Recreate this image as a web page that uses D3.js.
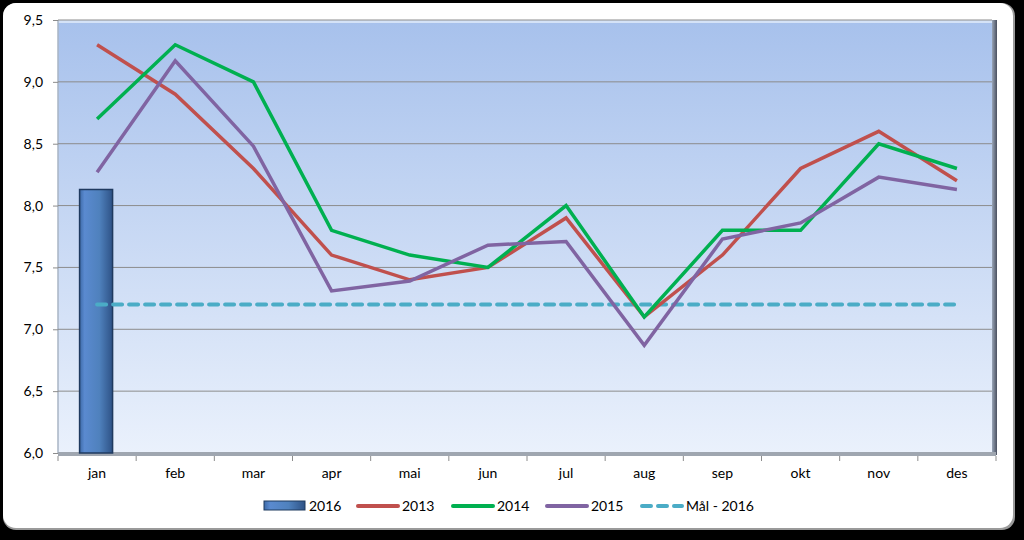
<!DOCTYPE html>
<html><head><meta charset="utf-8">
<script src="https://cdn.jsdelivr.net/npm/d3@7"></script>
<style>
html,body{margin:0;padding:0;background:#000;}
svg{display:block;}
text{font-family:Lato,"Open Sans",sans-serif;fill:#000;}
</style></head>
<body>
<script>
const months = ["jan","feb","mar","apr","mai","jun","jul","aug","sep","okt","nov","des"];
const bar2016 = [8.13];
const s2013 = [9.3, 8.9, 8.3, 7.6, 7.4, 7.5, 7.9, 7.1, 7.6, 8.3, 8.6, 8.2];
const s2014 = [8.7, 9.3, 9.0, 7.8, 7.6, 7.5, 8.0, 7.1, 7.8, 7.8, 8.5, 8.3];
const s2015 = [8.27, 9.17, 8.48, 7.31, 7.39, 7.68, 7.71, 6.87, 7.73, 7.86, 8.23, 8.13];
const goal2016 = [7.2, 7.2, 7.2, 7.2, 7.2, 7.2, 7.2, 7.2, 7.2, 7.2, 7.2, 7.2];
const yTicks = [6.0, 6.5, 7.0, 7.5, 8.0, 8.5, 9.0, 9.5];
const legendLabels = ["2016", "2013", "2014", "2015", "Mål - 2016"];

const W = 1024, H = 540;
const svg = d3.select("body").append("svg").attr("width", W).attr("height", H);
const defs = svg.append("defs");

svg.append("rect").attr("width", W).attr("height", H).attr("fill", "#000");
svg.append("rect").attr("x", 3).attr("y", 3).attr("width", 1012).attr("height", 527)
  .attr("rx", 13).attr("fill", "#9a9a9a");
svg.append("rect").attr("x", 3).attr("y", 3).attr("width", 1010).attr("height", 525)
  .attr("rx", 13).attr("fill", "#fff");

const x0 = 58, x1 = 996, yTop = 20, yBot = 453;
const x = d3.scaleBand().domain(months).range([x0, x1]).padding(0);
const y = d3.scaleLinear().domain([6, 9.5]).range([yBot, yTop]);

const g1 = defs.append("linearGradient").attr("id","plotGrad").attr("x1",0).attr("x2",0).attr("y1",0).attr("y2",1);
g1.append("stop").attr("offset","0%").attr("stop-color","#a7c1ec");
g1.append("stop").attr("offset","100%").attr("stop-color","#eaf1fc");
const rg = defs.append("linearGradient").attr("id","rightEdge").attr("x1",0).attr("x2",1).attr("y1",0).attr("y2",0);
rg.append("stop").attr("offset","0%").attr("stop-color","#9aa6b8");
rg.append("stop").attr("offset","100%").attr("stop-color","#4a5060");

svg.append("rect").attr("x", x0).attr("y", yTop).attr("width", x1 - x0).attr("height", yBot - yTop)
  .attr("fill", "url(#plotGrad)");
svg.append("rect").attr("x", x0).attr("y", yTop).attr("width", x1 - x0).attr("height", 3).attr("fill", "#d4e2f7");
svg.append("rect").attr("x", x1 - 4).attr("y", yTop).attr("width", 5).attr("height", yBot - yTop + 2).attr("fill", "url(#rightEdge)");
svg.append("line").attr("x1", x0).attr("x2", x0).attr("y1", yTop).attr("y2", yBot).attr("stroke", "#a8b4c4").attr("stroke-width", 1.5);

svg.append("g").selectAll("line").data(yTicks.slice(1)).join("line")
  .attr("x1", x0).attr("x2", x1 - 4).attr("y1", d => y(d)).attr("y2", d => y(d))
  .attr("stroke", "#8c8c8c").attr("stroke-width", 1);

svg.append("rect").attr("x", x0).attr("y", yBot - 1).attr("width", x1 - x0).attr("height", 4).attr("fill", "#9fa6b0");

const yAxis = d3.axisLeft(y).tickValues(yTicks).tickSize(5).tickPadding(10)
  .tickFormat(d => d3.format(".1f")(d).replace(".", ","));
const ya = svg.append("g").attr("transform", `translate(${x0},0)`).call(yAxis);
ya.select(".domain").remove();
ya.selectAll(".tick line").attr("stroke", "#8c8c8c");
ya.selectAll("text").attr("font-size", 14).attr("fill", "#000");

const xa = svg.append("g").attr("transform", `translate(0,${yBot + 3})`);
const boundaries = months.map((m, i) => x(m)).concat([x1]);
xa.selectAll("line").data(boundaries).join("line")
  .attr("x1", d => d).attr("x2", d => d).attr("y1", 0).attr("y2", 5).attr("stroke", "#8c8c8c");
xa.selectAll("text").data(months).join("text")
  .attr("x", d => x(d) + x.bandwidth() / 2).attr("y", 22)
  .attr("text-anchor", "middle").attr("font-size", 14).text(d => d);

const bg = defs.append("linearGradient").attr("id","barGrad").attr("x1",0).attr("x2",1).attr("y1",0).attr("y2",0);
bg.append("stop").attr("offset","0%").attr("stop-color","#3d6aa8");
bg.append("stop").attr("offset","15%").attr("stop-color","#5a8ad0");
bg.append("stop").attr("offset","60%").attr("stop-color","#4f81bd");
bg.append("stop").attr("offset","100%").attr("stop-color","#2e5286");
const bw = 33;
svg.append("g").selectAll("rect").data(bar2016).join("rect")
  .attr("x", (d, i) => x(months[i]) + x.bandwidth() / 2 - bw / 2 - 1)
  .attr("y", d => y(d))
  .attr("width", bw).attr("height", d => yBot - y(d))
  .attr("fill", "url(#barGrad)").attr("stroke", "#1f3a5f").attr("stroke-width", 1.5);

const line = d3.line().x((d, i) => x(months[i]) + x.bandwidth() / 2).y(d => y(d));
const series = [
  {data: s2013, color: "#c0504d"},
  {data: s2014, color: "#00b050"},
  {data: s2015, color: "#8064a2"}
];
svg.append("path").datum(goal2016).attr("d", line).attr("fill", "none")
  .attr("stroke", "#4bacc6").attr("stroke-width", 4).attr("stroke-dasharray", "9,7").attr("stroke-linecap","round");
series.forEach(s => {
  svg.append("path").datum(s.data).attr("d", line).attr("fill", "none")
    .attr("stroke", s.color).attr("stroke-width", 3.5).attr("stroke-linejoin", "miter");
});

const lg = svg.append("g");
const lx = [264, 357, 452, 546, 641];
const ly = 506;
lg.append("rect").attr("x", lx[0]).attr("y", ly - 5).attr("width", 41).attr("height", 9)
  .attr("fill", "url(#barGrad)").attr("stroke", "#1f3a5f");
[["#c0504d", false], ["#00b050", false], ["#8064a2", false], ["#4bacc6", true]].forEach((c, i) => {
  lg.append("line").attr("x1", lx[i + 1] + 1).attr("x2", lx[i + 1] + 41).attr("y1", ly).attr("y2", ly)
    .attr("stroke", c[0]).attr("stroke-width", 4).attr("stroke-linecap", "round")
    .attr("stroke-dasharray", c[1] ? "9,7" : null);
});
lg.selectAll("text").data(legendLabels).join("text")
  .attr("x", (d, i) => lx[i] + 45).attr("y", ly + 5).attr("font-size", 14).text(d => d);
</script>
</body></html>
